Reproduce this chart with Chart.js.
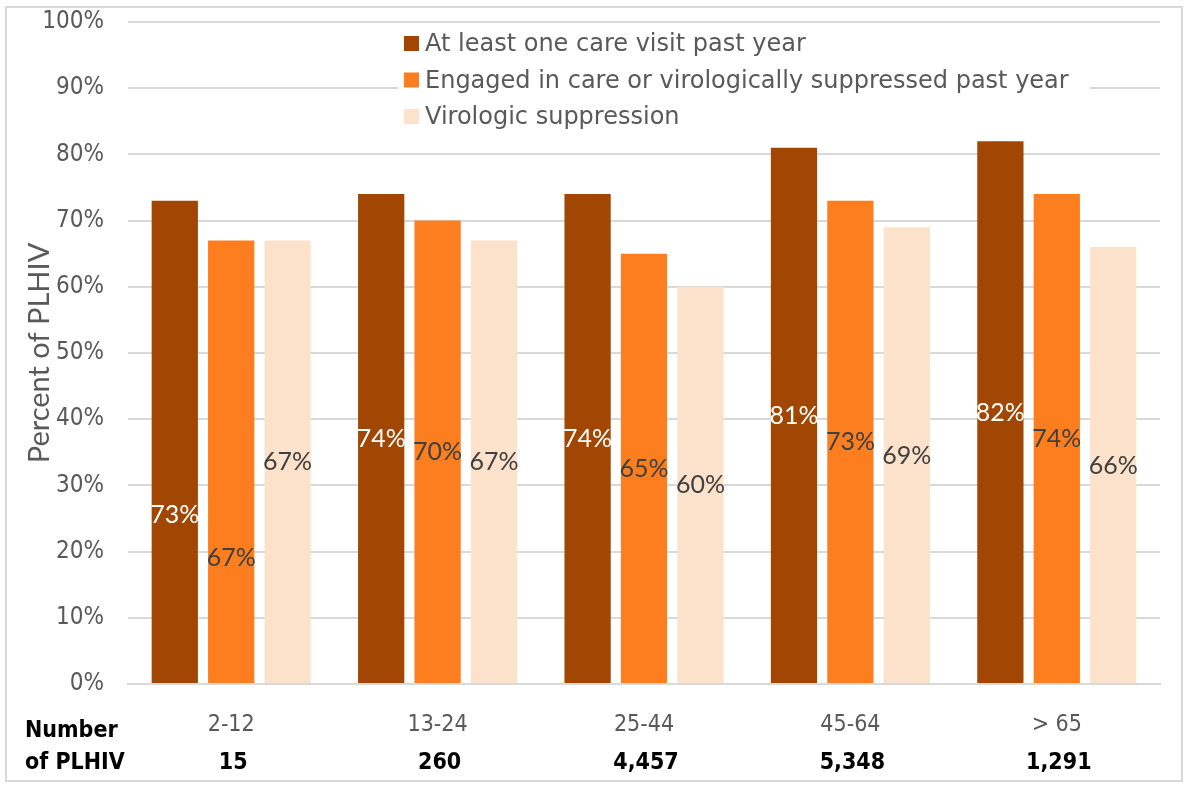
<!DOCTYPE html>
<html>
<head>
<meta charset="utf-8">
<script src="https://cdn.jsdelivr.net/npm/chart.js@4.4.1/dist/chart.umd.min.js"></script>
<style>
  body { margin: 0; background: #ffffff; }
  #wrap { position: relative; width: 1188px; height: 787px; }
</style>
</head>
<body>
<div id="wrap"><canvas id="grafico"></canvas></div>
<script>
var faixas = ['2-12', '13-24', '25-44', '45-64', '> 65'];
var numeroPLHIV = ['15', '260', '4,457', '5,348', '1,291'];
var umaVisita = [73, 74, 74, 81, 82];
var engajados = [67, 70, 65, 73, 74];
var supressao = [67, 67, 60, 69, 66];
var ticksY = [0, 10, 20, 30, 40, 50, 60, 70, 80, 90, 100];

var cinza = '#595959';

// moldura cinza em volta da figura
const moldura = {
    id: 'moldura',
    beforeDraw(chart) {
        const ctx = chart.ctx;
        ctx.save();
        ctx.fillStyle = '#ffffff';
        ctx.fillRect(0, 0, chart.width, chart.height);
        ctx.strokeStyle = '#d9d9d9';
        ctx.lineWidth = 2;
        ctx.strokeRect(6, 7, chart.width - 12, chart.height - 13);
        ctx.restore();
    }
};

// rotulos dentro das barras
const rotulos = {
    id: 'rotulos',
    afterDatasetsDraw(chart, args, opts) {
        const ctx = chart.ctx;
        const y = chart.scales.y;
        ctx.save();
        ctx.font = '25px Lato';
        ctx.textAlign = 'center';
        ctx.textBaseline = 'middle';
        chart.data.datasets.forEach(function (ds, i) {
            const meta = chart.getDatasetMeta(i);
            meta.data.forEach(function (bar, j) {
                var v = ds.data[j] / 2;
                var ajuste = opts.ajustes[i + '-' + j];
                if (ajuste) v = v + ajuste;
                ctx.fillStyle = i == 0 ? '#ffffff' : '#404040';
                ctx.fillText(ds.data[j] + '%', bar.x, y.getPixelForValue(v));
            });
        });
        ctx.restore();
    }
};

// legenda dentro da area do grafico, com fundo branco
const legenda = {
    id: 'legenda',
    afterDraw(chart) {
        const ctx = chart.ctx;
        ctx.save();
        ctx.fillStyle = '#ffffff';
        ctx.fillRect(398, 27, 692, 104);
        ctx.font = '24px "DejaVu Sans"';
        ctx.textBaseline = 'middle';
        chart.data.datasets.forEach(function (ds, i) {
            var yy = 44 + i * 36.5;
            ctx.fillStyle = ds.backgroundColor;
            ctx.fillRect(404, yy - 8, 15, 15);
            ctx.fillStyle = cinza;
            ctx.fillText(ds.label, 425, yy + 1);
        });
        ctx.restore();
    }
};

// linha de baixo: numero de PLHIV
const contagem = {
    id: 'contagem',
    afterDraw(chart) {
        const ctx = chart.ctx;
        const x = chart.scales.x;
        ctx.save();
        ctx.fillStyle = '#000000';
        ctx.font = 'bold 23px "DejaVu Sans Condensed"';
        ctx.textBaseline = 'middle';
        ctx.textAlign = 'left';
        ctx.fillText('Number', 25, 731);
        ctx.fillText('of PLHIV', 25, 763);
        ctx.textAlign = 'center';
        numeroPLHIV.forEach(function (n, j) {
            ctx.fillText(n, x.getPixelForValue(j) + 2, 763);
        });
        ctx.restore();
    }
};

new Chart(document.getElementById('grafico'), {
    type: 'bar',
    data: {
        labels: faixas,
        datasets: [{
            label: 'At least one care visit past year',
            backgroundColor: '#a14703',
            data: umaVisita
        }, {
            label: 'Engaged in care or virologically suppressed past year',
            backgroundColor: '#fd7e1e',
            data: engajados
        }, {
            label: 'Virologic suppression',
            backgroundColor: '#fde2cb',
            data: supressao
        }]
    },
    options: {
        responsive: true,
        maintainAspectRatio: false,
        animation: false,
        categoryPercentage: 0.82,
        barPercentage: 0.82,
        layout: {
            padding: { left: 8, right: 28, top: 22, bottom: 53 }
        },
        scales: {
            x: {
                afterFit: function (scale) {
                    scale.height = 50;
                    scale.paddingLeft = 0;
                    scale.paddingRight = 0;
                },
                grid: { display: false, drawTicks: false },
                border: { display: true, color: '#d9d9d9', width: 2 },
                ticks: {
                    color: cinza,
                    padding: 27,
                    font: { family: 'DejaVu Sans Condensed', size: 23 }
                }
            },
            y: {
                min: 0,
                max: 100,
                afterFit: function (scale) {
                    scale.width = 120;
                    scale.paddingTop = 0;
                    scale.paddingBottom = 0;
                },
                afterBuildTicks: function (scale) {
                    scale.ticks = ticksY.map(function (v) { return { value: v }; });
                },
                border: { display: false },
                grid: { color: '#d9d9d9', lineWidth: 2, drawTicks: false },
                ticks: {
                    color: cinza,
                    padding: 24,
                    font: { family: 'DejaVu Sans Condensed', size: 24 },
                    callback: function (v) { return v + '%'; }
                },
                title: {
                    display: true,
                    text: 'Percent of PLHIV',
                    color: cinza,
                    padding: { top: 14, bottom: 0 },
                    font: { family: 'Lato', size: 29 }
                }
            }
        },
        plugins: {
            legend: { display: false },
            tooltip: { enabled: false },
            rotulos: {
                ajustes: { '0-0': -11, '1-0': -14.5 }
            }
        }
    },
    plugins: [moldura, rotulos, legenda, contagem]
});
</script>
</body>
</html>
